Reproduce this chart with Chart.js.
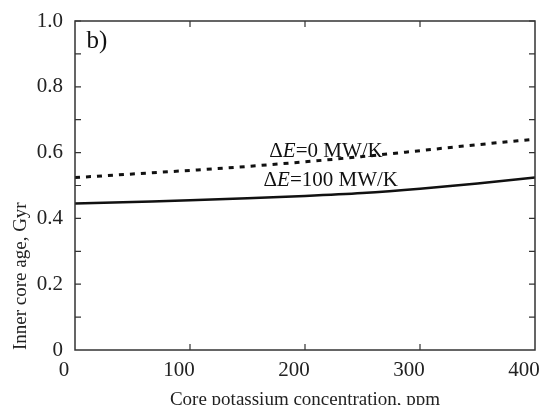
<!DOCTYPE html>
<html>
<head>
<meta charset="utf-8">
<script src="https://cdn.jsdelivr.net/npm/chart.js@4.4.1/dist/chart.umd.min.js"></script>
<style>
    html, body { margin: 0; padding: 0; background: #fff; }
    #wrap { width: 555px; height: 405px; }
</style>
</head>
<body>
<div id="wrap"><canvas id="ageChart" width="555" height="405"></canvas></div>
<script>
// Core potassium concentration (ppm) and inner core age (Gyr)
const potassium = [0, 50, 100, 150, 200, 250, 300, 350, 400];
const ageDE0 = [0.524, 0.535, 0.546, 0.558, 0.572, 0.588, 0.606, 0.624, 0.641];
const ageDE100 = [0.445, 0.450, 0.455, 0.461, 0.468, 0.477, 0.490, 0.506, 0.524];

const xTicks = [0, 100, 200, 300, 400];
const yTicks = [0, 0.2, 0.4, 0.6, 0.8, 1.0];

const SERIF = '"Liberation Serif", "DejaVu Serif", serif';
const INK = '#222';

function toPoints(values) {
    return potassium.map((k, i) => ({ x: k, y: values[i] }));
}

// Frame with inward ticks, plus the text labels inside the plot
const framePlugin = {
    id: 'frame',
    afterDraw(chart) {
        const ctx = chart.ctx;
        const area = chart.chartArea;
        const xs = chart.scales.x;
        const ys = chart.scales.y;

        ctx.save();
        ctx.strokeStyle = '#333';
        ctx.lineWidth = 1.5;
        ctx.strokeRect(area.left, area.top, area.right - area.left, area.bottom - area.top);

        ctx.lineWidth = 1.2;
        ctx.beginPath();
        for (let v = 0.1; v < 1.0; v += 0.1) {
            const py = ys.getPixelForValue(v);
            ctx.moveTo(area.left, py);
            ctx.lineTo(area.left + 6, py);
            ctx.moveTo(area.right, py);
            ctx.lineTo(area.right - 6, py);
        }
        [100, 200, 300].forEach(v => {
            const px = xs.getPixelForValue(v);
            ctx.moveTo(px, area.bottom);
            ctx.lineTo(px, area.bottom - 6);
            ctx.moveTo(px, area.top);
            ctx.lineTo(px, area.top + 6);
        });
        ctx.stroke();

        // "b)" panel label
        ctx.fillStyle = '#111';
        ctx.textBaseline = 'alphabetic';
        ctx.textAlign = 'left';
        ctx.font = '25px ' + SERIF;
        ctx.fillText('b)', xs.getPixelForValue(10), ys.getPixelForValue(0.917));

        drawDeltaLabel(ctx, '=0 MW/K', xs.getPixelForValue(169), ys.getPixelForValue(0.588));
        drawDeltaLabel(ctx, '=100 MW/K', xs.getPixelForValue(164), ys.getPixelForValue(0.500));
        ctx.restore();
    }
};

function drawDeltaLabel(ctx, rest, x, y) {
    const size = 21;
    ctx.font = size + 'px ' + SERIF;
    ctx.fillText('\u0394', x, y);
    x += ctx.measureText('\u0394').width;
    ctx.font = 'italic ' + size + 'px ' + SERIF;
    ctx.fillText('E', x, y);
    x += ctx.measureText('E').width;
    ctx.font = size + 'px ' + SERIF;
    ctx.fillText(rest, x, y);
}

function noScalePadding(scale) {
    scale.paddingLeft = 0;
    scale.paddingRight = 0;
    scale.paddingTop = 0;
    scale.paddingBottom = 0;
}

new Chart(document.getElementById('ageChart'), {
    type: 'line',
    data: {
        datasets: [{
            label: 'dE = 0 MW/K',
            data: toPoints(ageDE0),
            borderColor: '#111',
            borderWidth: 3,
            borderDash: [5, 6],
            pointRadius: 0,
            cubicInterpolationMode: 'monotone',
            fill: false
        }, {
            label: 'dE = 100 MW/K',
            data: toPoints(ageDE100),
            borderColor: '#111',
            borderWidth: 2.5,
            pointRadius: 0,
            cubicInterpolationMode: 'monotone',
            fill: false
        }]
    },
    options: {
        responsive: false,
        animation: false,
        layout: { padding: { top: 21, right: 20, left: 0, bottom: 0 } },
        plugins: {
            legend: { display: false },
            tooltip: { enabled: false }
        },
        scales: {
            x: {
                type: 'linear',
                min: 0,
                max: 400,
                afterBuildTicks: scale => { scale.ticks = xTicks.map(v => ({ value: v })); },
                afterFit: scale => { scale.height = 55; noScalePadding(scale); },
                grid: { display: false, drawTicks: false },
                border: { display: false },
                ticks: {
                    color: INK,
                    font: { family: SERIF, size: 21 },
                    padding: 8,
                    labelOffset: -11,
                    maxRotation: 0
                },
                title: {
                    display: true,
                    text: 'Core potassium concentration, ppm',
                    color: INK,
                    font: { family: SERIF, size: 19, lineHeight: 1.0 },
                    padding: { top: 0, bottom: -5 }
                }
            },
            y: {
                type: 'linear',
                min: 0,
                max: 1,
                afterBuildTicks: scale => { scale.ticks = yTicks.map(v => ({ value: v })); },
                afterFit: scale => { scale.width = 75; noScalePadding(scale); },
                grid: { display: false, drawTicks: false },
                border: { display: false },
                ticks: {
                    color: INK,
                    font: { family: SERIF, size: 21 },
                    padding: 12,
                    callback: v => (v === 0 ? '0' : v.toFixed(1))
                },
                title: {
                    display: true,
                    text: 'Inner core age, Gyr',
                    align: 'start',
                    color: INK,
                    font: { family: SERIF, size: 19 },
                    padding: { top: 10, bottom: 0 }
                }
            }
        }
    },
    plugins: [framePlugin]
});
</script>
</body>
</html>
